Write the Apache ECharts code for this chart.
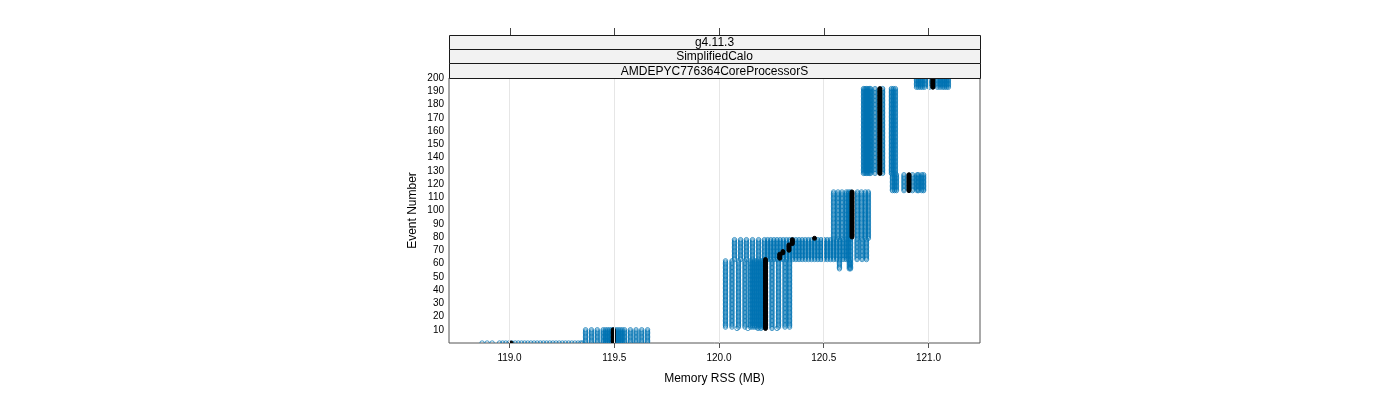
<!DOCTYPE html>
<html><head><meta charset="utf-8">
<script src="https://cdn.jsdelivr.net/npm/echarts@6/dist/echarts.min.js"></script>
<style>html,body{margin:0;padding:0;background:#fff}#c{width:1400px;height:400px}</style>
</head><body><div id="c"></div>
<script>
// ---- axis / labels ----
const xTicks = [119.0, 119.5, 120.0, 120.5, 121.0];
const stripLabels = ['g4.11.3', 'SimplifiedCalo', 'AMDEPYC776364CoreProcessorS'];

// ---- blue runs: memory values (MB) held over an event range ----
const grpA_events = [0, 0];
const grpA_mem = [118.869, 118.893, 118.917, 118.952, 118.967, 118.982, 118.997, 119.012, 119.027, 119.042, 119.057, 119.072, 119.087, 119.102, 119.117, 119.132, 119.147, 119.162, 119.177, 119.192, 119.207, 119.222, 119.237, 119.252, 119.267, 119.282, 119.297, 119.312, 119.327, 119.340, 119.348];

const grpB_events = [0, 10];
const grpB_mem = [119.363, 119.391, 119.419, 119.447, 119.458, 119.468, 119.478, 119.488, 119.498, 119.508, 119.518, 119.528, 119.538, 119.549, 119.577, 119.604, 119.631, 119.659];

const grpC0_events = [11, 11];
const grpC0_mem = [120.086, 120.138, 120.186, 120.200, 120.253, 120.277];

const grpC_events = [12, 62];
const grpC_mem = [120.031, 120.062, 120.093, 120.124, 120.150, 120.160, 120.170, 120.180, 120.190, 120.200, 120.210, 120.222, 120.253, 120.284, 120.315, 120.337];

const grpD_events = [63, 78];
const grpD_mem = [120.074, 120.103, 120.131, 120.160, 120.189, 120.217, 120.232, 120.247, 120.262, 120.277, 120.292, 120.307, 120.322, 120.337, 120.352, 120.367, 120.382, 120.397, 120.412, 120.427, 120.442, 120.457, 120.472, 120.487, 120.502, 120.517, 120.532, 120.547, 120.562, 120.577, 120.592, 120.607, 120.618, 120.628, 120.659, 120.683, 120.704];

const grpD2_events = [56, 62];
const grpD2_mem = [120.575, 120.622, 120.628];

const grpE_events = [79, 114];
const grpE_mem = [120.547, 120.568, 120.587, 120.608, 120.618, 120.628, 120.661, 120.680, 120.699, 120.713];

const grpF_events = [128, 192];
const grpF_mem = [120.690, 120.697, 120.704, 120.711, 120.718, 120.724, 120.745, 120.781, 120.823, 120.832, 120.842];

const grpG_events = [115, 127];
const grpG_mem = [120.828, 120.838, 120.847, 120.883, 120.924, 120.946, 120.952, 120.968, 120.977];

const grpH_events = [193, 200];
const grpH_mem = [120.943, 120.952, 120.962, 120.971, 120.981, 121.004, 121.043, 121.055, 121.067, 121.076, 121.086, 121.095];

// ---- black run (reference) ----
const blackFrom = [0, 1, 11, 64, 68, 70, 75, 79, 80, 115, 128, 193];
const blackTo   = [0, 10, 63, 67, 69, 74, 78, 79, 114, 127, 192, 200];
const blackMem  = [119.007, 119.495, 120.222, 120.290, 120.305, 120.334, 120.350, 120.456, 120.635, 120.907, 120.768, 121.021];

const blueGroups = [
  [grpA_events, grpA_mem], [grpB_events, grpB_mem], [grpC0_events, grpC0_mem],
  [grpC_events, grpC_mem], [grpD_events, grpD_mem], [grpD2_events, grpD2_mem],
  [grpE_events, grpE_mem], [grpF_events, grpF_mem], [grpG_events, grpG_mem],
  [grpH_events, grpH_mem]
];
const blueData = [];
blueGroups.forEach(([ev, mem]) => {
  for (let e = ev[0]; e <= ev[1]; e++) mem.forEach(m => blueData.push([m, e]));
});
const blackData = [];
blackFrom.forEach((f, i) => {
  for (let e = f; e <= blackTo[i]; e++) blackData.push([blackMem[i], e]);
});

const FONT = 'Liberation Sans, Arial, Helvetica, sans-serif';
const PL = 449, PR = 980, PT = 78, PB = 343;
const chart = echarts.init(document.getElementById('c'), null, {renderer: 'canvas'});

const stripTops = [35.5, 49.5, 63.5, 78.5];
const graphics = [];
for (let i = 0; i < 3; i++) {
  graphics.push({
    type: 'rect', z: 10,
    shape: {x: PL + 0.5, y: stripTops[i], width: PR - PL, height: stripTops[i + 1] - stripTops[i]},
    style: {fill: '#f2f2f2', stroke: '#1a1a1a', lineWidth: 1}
  });
  graphics.push({
    type: 'text', z: 11,
    x: (PL + PR) / 2, y: (stripTops[i] + stripTops[i + 1]) / 2 + 0.5,
    style: {text: stripLabels[i], font: '12px ' + FONT, fill: '#000', align: 'center', verticalAlign: 'middle'}
  });
}

function circleItem(stroke, fill, r, op) {
  return function (params, api) {
    const p = api.coord([api.value(0), api.value(1)]);
    return {type: 'circle', shape: {cx: p[0], cy: p[1], r: r},
            style: {fill: fill, stroke: stroke, lineWidth: 1, opacity: op}};
  };
}

chart.setOption({
  animation: false,
  backgroundColor: '#fff',
  textStyle: {fontFamily: FONT},
  grid: [
    {left: PL, top: PT, width: PR - PL, height: PB - PT, show: true, borderColor: '#555', borderWidth: 1, backgroundColor: 'transparent'},
    {left: PL, top: 28, width: PR - PL, height: 7, show: false}
  ],
  xAxis: [
    {
      gridIndex: 0, type: 'value', min: 118.711, max: 121.246,
      axisLine: {show: false},
      axisTick: {show: true, customValues: xTicks, length: 5, lineStyle: {color: '#555'}},
      axisLabel: {customValues: xTicks, formatter: v => v.toFixed(1), fontSize: 10, color: '#000', margin: 10, fontFamily: FONT},
      splitLine: {show: false},
      name: 'Memory RSS (MB)', nameLocation: 'middle', nameGap: 30,
      nameTextStyle: {fontSize: 12, color: '#000', fontFamily: FONT}
    },
    {
      gridIndex: 1, type: 'value', min: 118.711, max: 121.246, show: false
    }
  ],
  yAxis: [
    {
      gridIndex: 0, type: 'value', min: 0, max: 200, interval: 10,
      axisLine: {show: false}, axisTick: {show: false}, splitLine: {show: false},
      axisLabel: {formatter: v => v === 0 ? '' : String(v), fontSize: 10, color: '#000', margin: 5, fontFamily: FONT},
      name: 'Event Number', nameLocation: 'middle', nameRotate: 90, nameGap: 30,
      nameTextStyle: {fontSize: 12, color: '#000', fontFamily: FONT}
    },
    {gridIndex: 1, type: 'value', min: 0, max: 1, show: false}
  ],
  graphic: graphics,
  series: [
    {
      type: 'scatter', xAxisIndex: 0, yAxisIndex: 0, data: [], z: 1, silent: true,
      markLine: {
        silent: true, symbol: ['none', 'none'], label: {show: false},
        lineStyle: {color: '#e6e6e6', type: 'solid', width: 1},
        data: xTicks.map(v => ({xAxis: v}))
      }
    },
    {
      // top tick marks (lattice draws ticks above the strips)
      type: 'custom', xAxisIndex: 1, yAxisIndex: 1, data: xTicks.map(v => [v]), z: 1, silent: true,
      encode: {x: 0},
      renderItem: function (params, api) {
        const a = api.coord([api.value(0), 0]);
        const b = api.coord([api.value(0), 1]);
        const x = Math.round(a[0]) + 0.5;
        return {type: 'line', shape: {x1: x, y1: a[1], x2: x, y2: b[1]},
                style: {stroke: '#444', lineWidth: 1}};
      }
    },
    {
      type: 'custom', xAxisIndex: 0, yAxisIndex: 0, data: blueData, z: 2, clip: true, silent: true,
      encode: {x: 0, y: 1},
      renderItem: circleItem('#0072B2', 'none', 2.2, 0.7)
    },
    {
      type: 'custom', xAxisIndex: 0, yAxisIndex: 0, data: blackData, z: 3, clip: true, silent: true,
      encode: {x: 0, y: 1},
      renderItem: circleItem('#000', '#000', 2, 1)
    }
  ]
});
</script>
</body></html>
